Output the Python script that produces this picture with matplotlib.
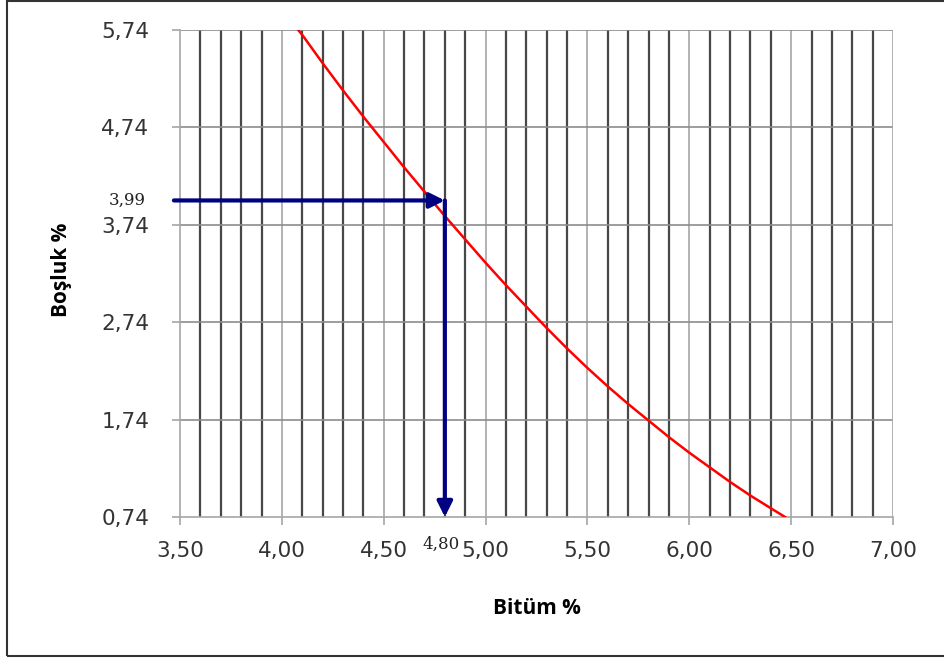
import numpy as np
import matplotlib.pyplot as plt
from matplotlib.patches import Rectangle

# boşluk - bitüm eğrisi (okunan noktalar)
bitum = [4.08, 4.10, 4.20, 4.30, 4.40, 4.50, 4.60, 4.70, 4.80, 4.90, 5.00, 5.10, 5.20,
         5.30, 5.40, 5.50, 5.60, 5.70, 5.80, 5.90, 6.00, 6.10, 6.20, 6.30, 6.40, 6.47]
bosluk = [5.74, 5.69, 5.40, 5.12, 4.85, 4.59, 4.33, 4.08, 3.83, 3.59, 3.35, 3.12, 2.90,
          2.68, 2.47, 2.27, 2.08, 1.90, 1.73, 1.56, 1.40, 1.25, 1.10, 0.96, 0.83, 0.74]

# x ve y eksen degerleri
x_ticks = [3.50, 4.00, 4.50, 5.00, 5.50, 6.00, 6.50, 7.00]
x_labels = ['3,50', '4,00', '4,50', '5,00', '5,50', '6,00', '6,50', '7,00']
y_ticks = [0.74, 1.74, 2.74, 3.74, 4.74, 5.74]
y_labels = ['0,74', '1,74', '2,74', '3,74', '4,74', '5,74']

# hedef boşluk ve karşılık gelen bitüm
hedef_bosluk = 3.99
hedef_bitum = 4.80

fig = plt.figure(figsize=(9.45, 6.58), dpi=100)
ax = fig.add_axes([0.1905, 0.2143, 0.7545, 0.7401])

# dikey ara cizgiler (0,1 aralik) koyu, ana cizgiler gri
minor_x = np.round(np.arange(3.6, 7.0, 0.1), 2)
for xv in minor_x:
    if abs(xv * 2 - round(xv * 2)) < 1e-6:
        ax.axvline(xv, color='#a6a6a6', lw=1.2, zorder=1)
    else:
        ax.axvline(xv, color='#484848', lw=1.6, zorder=1)
for yv in y_ticks[1:]:
    ax.axhline(yv, color='#8c8c8c', lw=1.2, zorder=1)
ax.axvline(7.0, color='#a6a6a6', lw=1.2, zorder=1)

ax.plot(bitum, bosluk, color='#ff0000', lw=1.8, zorder=3)

ax.set_xlim(3.5, 7.0)
ax.set_ylim(0.74, 5.74)
ax.set_xticks(x_ticks)
ax.set_xticklabels(x_labels)
ax.set_yticks(y_ticks)
ax.set_yticklabels(y_labels)
ax.tick_params(axis='both', direction='out', length=6, width=1.2, color='#a6a6a6',
               labelsize=15.5, labelcolor='#333333')
ax.tick_params(axis='x', pad=11)
ax.tick_params(axis='y', pad=16)
for s in ['top', 'right']:
    ax.spines[s].set_visible(False)
for s in ['left', 'bottom']:
    ax.spines[s].set_color('#a6a6a6')
    ax.spines[s].set_linewidth(1.2)

# okumayi gosteren oklar
ok = dict(arrowstyle='-|>,head_length=0.9,head_width=0.45', color='#000080', lw=3,
          shrinkA=0, shrinkB=0)
ax.annotate('', xy=(hedef_bitum, hedef_bosluk), xytext=(3.47, hedef_bosluk),
            arrowprops=ok, zorder=5, annotation_clip=False)
ax.annotate('', xy=(hedef_bitum, 0.74), xytext=(hedef_bitum, hedef_bosluk),
            arrowprops=ok, zorder=5, annotation_clip=False)

ax.text(3.33, hedef_bosluk, '3,99', family='DejaVu Serif', fontsize=12,
        ha='right', va='center', color='#222222')
ax.text(hedef_bitum - 0.02, 0.46, '4,80', family='DejaVu Serif', fontsize=12,
        ha='center', va='center', color='#222222')

fig.text(537 / 945, 1 - 609 / 658, 'Bitüm %', fontsize=15, fontweight='bold',
         family='Open Sans', ha='center', va='center')
fig.text(62 / 945, 1 - 270 / 658, 'Boşluk %', fontsize=15, fontweight='bold',
         family='Open Sans', ha='center', va='center', rotation=90)

# cerceve
fig.patches.append(Rectangle((0.0075, 0.003), 1.1, 0.996, transform=fig.transFigure,
                             fill=False, edgecolor='#333333', lw=1.5))

fig.savefig('out.png', dpi=100)
